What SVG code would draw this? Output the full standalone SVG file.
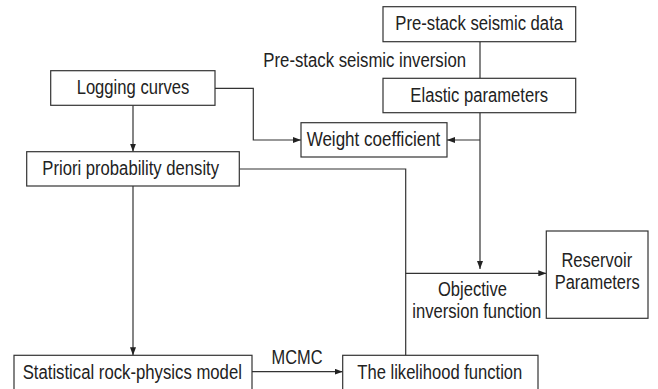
<svg xmlns="http://www.w3.org/2000/svg" width="658" height="389" viewBox="0 0 658 389">
<style>
.box{fill:#fff;stroke:#333;stroke-width:1.2}
.t{font-family:"Liberation Sans",Arial,sans-serif;font-size:20px;fill:#222;text-anchor:middle}
.c{fill:none;stroke:#333;stroke-width:1.2}
</style>
<defs>
<marker id="ah" viewBox="0 0 8 6" refX="8" refY="3" markerWidth="8" markerHeight="6" markerUnits="userSpaceOnUse" orient="auto">
<path d="M0,0 L8,3 L0,6 Z" fill="#222"/>
</marker>
</defs>
<rect width="658" height="389" fill="#fff"/>
<g id="connectors">
<path class="c" d="M480,41.7 V78.3"/>
<path class="c" d="M133,105.3 V151.7" marker-end="url(#ah)"/>
<path class="c" d="M215,88.3 H253.3 V140 H301" marker-end="url(#ah)"/>
<path class="c" d="M480,112.7 V269" marker-end="url(#ah)"/>
<path class="c" d="M480,140 H447" marker-end="url(#ah)"/>
<path class="c" d="M239.3,169 H405.7 V355.3"/>
<path class="c" d="M405.7,273.3 H546.3" marker-end="url(#ah)"/>
<path class="c" d="M133,186 V355.3" marker-end="url(#ah)"/>
<path class="c" d="M252,371.7 H342.7" marker-end="url(#ah)"/>
<text class="t" x="364.7" y="67.3" textLength="202.7" lengthAdjust="spacingAndGlyphs">Pre-stack seismic inversion</text>
<text class="t" x="297" y="364" textLength="51" lengthAdjust="spacingAndGlyphs">MCMC</text>
<text class="t" x="472.5" y="296" textLength="69" lengthAdjust="spacingAndGlyphs">Objective</text>
<text class="t" x="476.8" y="318.3" textLength="129" lengthAdjust="spacingAndGlyphs">inversion function</text>
</g>
<g id="prestack">
<rect class="box" x="383" y="6.7" width="192.7" height="35"/>
<text class="t" x="479.2" y="30.3" textLength="167.7" lengthAdjust="spacingAndGlyphs">Pre-stack seismic data</text>
</g>
<g id="elastic">
<rect class="box" x="383" y="78.3" width="192.7" height="34.4"/>
<text class="t" x="479.2" y="101.8" textLength="137.7" lengthAdjust="spacingAndGlyphs">Elastic parameters</text>
</g>
<g id="logging">
<rect class="box" x="50.7" y="70.7" width="164.3" height="34.6"/>
<text class="t" x="133" y="93.8" textLength="112.7" lengthAdjust="spacingAndGlyphs">Logging curves</text>
</g>
<g id="weight">
<rect class="box" x="301" y="122.7" width="146" height="34.3"/>
<text class="t" x="373.5" y="146" textLength="133.7" lengthAdjust="spacingAndGlyphs">Weight coefficient</text>
</g>
<g id="priori">
<rect class="box" x="26.7" y="151.7" width="212.6" height="34.3"/>
<text class="t" x="130.7" y="174.8" textLength="176.7" lengthAdjust="spacingAndGlyphs">Priori probability density</text>
</g>
<g id="reservoir">
<rect class="box" x="546.3" y="231" width="101.7" height="87.3"/>
<text class="t" x="596.8" y="266.7" textLength="70.7" lengthAdjust="spacingAndGlyphs">Reservoir</text>
<text class="t" x="597.2" y="289.3" textLength="85" lengthAdjust="spacingAndGlyphs">Parameters</text>
</g>
<g id="statistical">
<rect class="box" x="14" y="355.3" width="238" height="40"/>
<text class="t" x="132.3" y="378.5" textLength="219.3" lengthAdjust="spacingAndGlyphs">Statistical rock-physics model</text>
</g>
<g id="likelihood">
<rect class="box" x="342.7" y="355.3" width="195.3" height="40"/>
<text class="t" x="439.8" y="379.3" textLength="165" lengthAdjust="spacingAndGlyphs">The likelihood function</text>
</g>
</svg>
